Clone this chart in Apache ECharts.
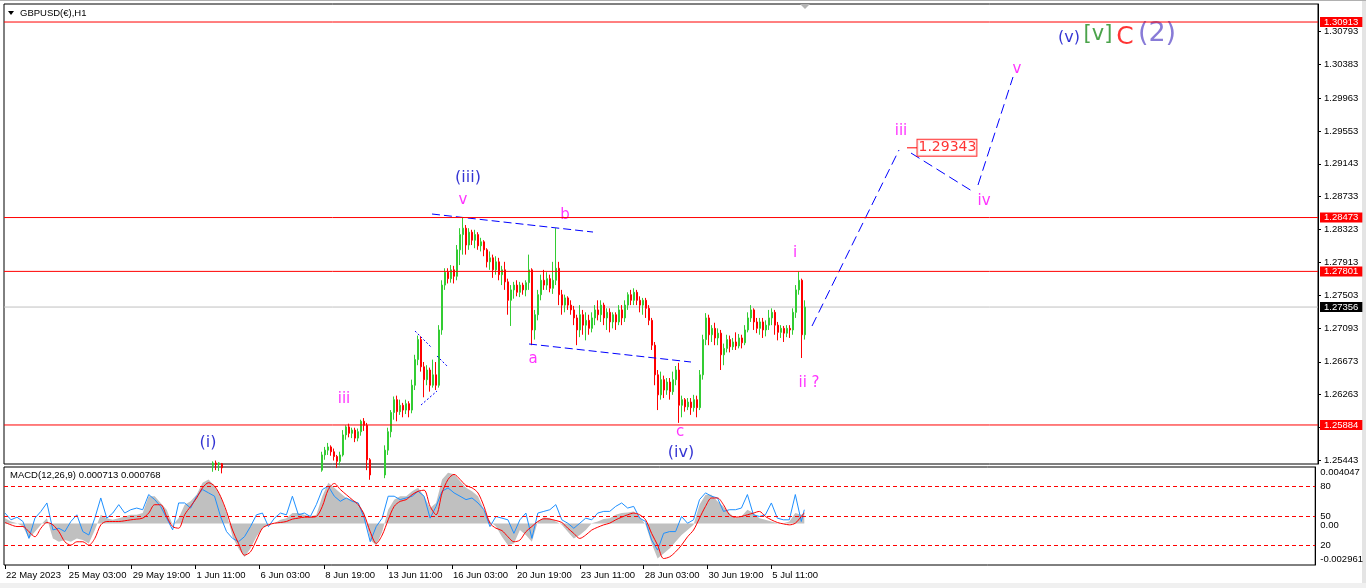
<!DOCTYPE html>
<html lang="en">
<head>
<meta charset="UTF-8">
<title>GBPUSD(€),H1</title>
<script src="https://cdn.jsdelivr.net/npm/echarts@6.0.0/dist/echarts.min.js"></script>
<style>
  html, body { margin: 0; padding: 0; background: #fff; }
  #main { width: 1366px; height: 588px; }
</style>
</head>
<body>
<div id="main"></div>
<script>
// hourly bar index (0 = first bar on screen), prices, 3-hour candles
// [bar, open, close, low, high]
var candles = [
  [208,1.2538,1.2541,1.2530,1.2543],[211,1.2541,1.2539,1.2532,1.2544],[214,1.2539,1.2541,1.2531,1.2542],[217,1.2540,1.2535,1.2528,1.2541],
  [317,1.2532,1.2551,1.2530,1.2555],[320,1.2551,1.2557,1.2545,1.2561],[323,1.2557,1.2561,1.2551,1.2566],[326,1.2561,1.2555,1.2550,1.2563],
  [329,1.2555,1.2549,1.2544,1.2559],[332,1.2549,1.2543,1.2535,1.2551],[335,1.2543,1.2551,1.2538,1.2555],[338,1.2551,1.2576,1.2549,1.2582],
  [341,1.2576,1.2586,1.2570,1.2588],[344,1.2586,1.2578,1.2573,1.2590],[347,1.2578,1.2582,1.2572,1.2585],[350,1.2582,1.2572,1.2567,1.2585],
  [353,1.2572,1.2580,1.2568,1.2584],[356,1.2580,1.2593,1.2575,1.2595],[359,1.2593,1.2588,1.2581,1.2597],[362,1.2588,1.2545,1.2532,1.2591],
  [365,1.2545,1.2526,1.2520,1.2547],
  [380,1.2526,1.2557,1.2522,1.2563],[383,1.2557,1.2580,1.2551,1.2585],[386,1.2580,1.2604,1.2573,1.2607],[389,1.2604,1.2620,1.2595,1.2624],
  [392,1.2620,1.2605,1.2593,1.2625],[395,1.2605,1.2613,1.2601,1.2620],[398,1.2613,1.2607,1.2598,1.2616],[401,1.2607,1.2615,1.2602,1.2620],
  [404,1.2615,1.2607,1.2598,1.2618],[407,1.2607,1.2638,1.2603,1.2645],[410,1.2638,1.2670,1.2632,1.2676],[413,1.2670,1.2695,1.2663,1.2700],
  [416,1.2695,1.2661,1.2655,1.2699],[419,1.2661,1.2645,1.2623,1.2667],[422,1.2645,1.2657,1.2638,1.2663],[425,1.2657,1.2638,1.2630,1.2660],
  [428,1.2638,1.2651,1.2635,1.2670],[431,1.2651,1.2638,1.2632,1.2667],[434,1.2638,1.2707,1.2635,1.2713],[437,1.2707,1.2763,1.2701,1.2769],
  [440,1.2763,1.2779,1.2757,1.2784],[443,1.2779,1.2771,1.2765,1.2784],[446,1.2771,1.2782,1.2766,1.2788],[449,1.2782,1.2774,1.2765,1.2787],
  [452,1.2774,1.2807,1.2769,1.2813],[455,1.2807,1.2826,1.2788,1.2834],[458,1.2826,1.2834,1.2801,1.2847],[461,1.2834,1.2813,1.2801,1.2838],
  [464,1.2813,1.2829,1.2807,1.2834],[467,1.2829,1.2819,1.2813,1.2832],[470,1.2819,1.2826,1.2809,1.2832],[473,1.2826,1.2812,1.2807,1.2829],
  [476,1.2812,1.2817,1.2805,1.2822],[479,1.2817,1.2807,1.2799,1.2819],[482,1.2807,1.2792,1.2785,1.2809],[485,1.2792,1.2797,1.2782,1.2805],
  [488,1.2797,1.2782,1.2772,1.2801],[491,1.2782,1.2792,1.2776,1.2799],[494,1.2792,1.2776,1.2769,1.2797],[497,1.2776,1.2782,1.2763,1.2787],
  [500,1.2782,1.2767,1.2757,1.2792],[503,1.2767,1.2744,1.2726,1.2771],[506,1.2744,1.2757,1.2712,1.2763],[509,1.2757,1.2763,1.2746,1.2767],
  [512,1.2763,1.2754,1.2749,1.2769],[515,1.2754,1.2763,1.2748,1.2767],[518,1.2763,1.2757,1.2751,1.2766],[521,1.2757,1.2766,1.2749,1.2769],
  [524,1.2766,1.2782,1.2757,1.2801],[527,1.2782,1.2707,1.2688,1.2784],[530,1.2707,1.2726,1.2695,1.2732],[533,1.2726,1.2751,1.2719,1.2757],
  [536,1.2751,1.2769,1.2744,1.2776],[539,1.2769,1.2763,1.2757,1.2782],[542,1.2763,1.2771,1.2757,1.2779],[545,1.2771,1.2759,1.2754,1.2776],
  [548,1.2759,1.2769,1.2752,1.2792],[551,1.2769,1.2784,1.2763,1.2834],[554,1.2784,1.2751,1.2738,1.2792],[557,1.2751,1.2738,1.2726,1.2757],
  [560,1.2738,1.2747,1.2729,1.2751],[563,1.2747,1.2738,1.2732,1.2749],[566,1.2738,1.2732,1.2726,1.2744],[569,1.2732,1.2722,1.2713,1.2737],
  [572,1.2722,1.2707,1.2688,1.2726],[575,1.2707,1.2726,1.2698,1.2738],[578,1.2726,1.2713,1.2701,1.2732],[581,1.2713,1.2719,1.2694,1.2729],
  [584,1.2719,1.2709,1.2701,1.2726],[587,1.2709,1.2722,1.2704,1.2729],[590,1.2722,1.2732,1.2713,1.2738],[593,1.2732,1.2726,1.2719,1.2744],
  [596,1.2726,1.2738,1.2717,1.2744],[599,1.2738,1.2722,1.2713,1.2741],[602,1.2722,1.2729,1.2707,1.2734],[605,1.2729,1.2717,1.2704,1.2734],
  [608,1.2717,1.2726,1.2709,1.2729],[611,1.2726,1.2717,1.2707,1.2729],[614,1.2717,1.2732,1.2713,1.2738],[617,1.2732,1.2722,1.2713,1.2738],
  [620,1.2722,1.2738,1.2717,1.2744],[623,1.2738,1.2751,1.2732,1.2754],[626,1.2751,1.2744,1.2738,1.2757],[629,1.2744,1.2754,1.2738,1.2759],
  [632,1.2754,1.2744,1.2738,1.2757],[635,1.2744,1.2738,1.2729,1.2749],[638,1.2738,1.2744,1.2726,1.2747],[641,1.2744,1.2734,1.2722,1.2747],
  [644,1.2734,1.2719,1.2713,1.2738],[647,1.2719,1.2688,1.2682,1.2722],[650,1.2688,1.2651,1.2638,1.2692],[653,1.2651,1.2626,1.2607,1.2657],
  [656,1.2626,1.2645,1.2620,1.2655],[659,1.2645,1.2632,1.2622,1.2650],[662,1.2632,1.2642,1.2626,1.2647],[665,1.2642,1.2630,1.2620,1.2647],
  [668,1.2630,1.2645,1.2626,1.2655],[671,1.2645,1.2657,1.2638,1.2662],[674,1.2657,1.2613,1.2591,1.2666],[677,1.2613,1.2620,1.2598,1.2625],
  [680,1.2620,1.2611,1.2605,1.2622],[683,1.2611,1.2617,1.2607,1.2622],[686,1.2617,1.2610,1.2601,1.2622],[689,1.2610,1.2620,1.2605,1.2626],
  [692,1.2620,1.2610,1.2598,1.2625],[695,1.2610,1.2651,1.2607,1.2657],[698,1.2651,1.2695,1.2645,1.2701],[701,1.2695,1.2722,1.2688,1.2728],
  [704,1.2722,1.2701,1.2688,1.2726],[707,1.2701,1.2709,1.2692,1.2713],[710,1.2709,1.2697,1.2688,1.2716],[713,1.2697,1.2703,1.2688,1.2709],
  [716,1.2703,1.2676,1.2657,1.2707],[719,1.2676,1.2684,1.2663,1.2690],[722,1.2684,1.2695,1.2679,1.2701],[725,1.2695,1.2686,1.2679,1.2700],
  [728,1.2686,1.2692,1.2682,1.2697],[731,1.2692,1.2687,1.2682,1.2704],[734,1.2687,1.2697,1.2684,1.2702],[737,1.2697,1.2691,1.2684,1.2701],
  [740,1.2691,1.2707,1.2688,1.2713],[743,1.2707,1.2722,1.2704,1.2729],[746,1.2722,1.2732,1.2717,1.2738],[749,1.2732,1.2717,1.2707,1.2734],
  [752,1.2717,1.2709,1.2703,1.2722],[755,1.2709,1.2717,1.2701,1.2722],[758,1.2717,1.2707,1.2697,1.2722],[761,1.2707,1.2713,1.2699,1.2719],
  [764,1.2713,1.2722,1.2707,1.2732],[767,1.2722,1.2729,1.2713,1.2734],[770,1.2729,1.2713,1.2701,1.2732],[773,1.2713,1.2704,1.2694,1.2717],
  [776,1.2704,1.2709,1.2697,1.2713],[779,1.2709,1.2703,1.2692,1.2712],[782,1.2703,1.2709,1.2698,1.2713],[785,1.2709,1.2707,1.2697,1.2713],
  [788,1.2707,1.2729,1.2701,1.2734],[791,1.2729,1.2757,1.2722,1.2763],[794,1.2757,1.2769,1.2751,1.2780],[797,1.2769,1.2701,1.2672,1.2771],
  [800,1.2701,1.27356,1.2695,1.2744]
];

var priceTicks = [1.30793,1.30383,1.29963,1.29553,1.29143,1.28733,1.28323,1.27913,1.27503,1.27093,1.26673,1.26263,1.25853,1.25443];
var levels = [1.30913, 1.28473, 1.27801, 1.25884];
var currentPrice = 1.27356;
var targetPrice = 1.29343;

var tickBars = [0,63,127,191,255,320,383,448,512,576,640,704,768];
var dateLabels = ['22 May 2023','25 May 03:00','29 May 19:00','1 Jun 11:00','6 Jun 03:00','8 Jun 19:00',
  '13 Jun 11:00','16 Jun 03:00','20 Jun 19:00','23 Jun 11:00','28 Jun 03:00','30 Jun 19:00','5 Jul 11:00'];

// indicator pane, sampled every 6 bars
var macdBars = [0,6,12,18,24,30,36,42,48,54,60,66,72,78,84,90,96,102,108,114,120,126,132,138,144,150,156,162,168,174,
  180,186,192,198,204,210,216,222,228,234,240,246,252,258,264,270,276,282,288,294,300,306,312,318,324,330,336,342,348,354,
  360,366,372,378,384,390,396,402,408,414,420,426,432,438,444,450,456,462,468,474,480,486,492,498,504,510,516,522,528,534,
  540,546,552,558,564,570,576,582,588,594,600,606,612,618,624,630,636,642,648,654,660,666,672,678,684,690,696,702,708,714,
  720,726,732,738,744,750,756,762,768,774,780,786,792,798,801];
var macdMain = [0.00039,0.00015,0.00003,-0.00021,-0.00106,-0.00058,-0.00009,0.00039,-0.00106,-0.00130,
  -0.00118,-0.00130,-0.00106,-0.00118,-0.00142,-0.00046,0.00063,0.00039,0.00027,0.00039,
  0.00051,0.00063,0.00063,0.00075,0.00195,0.00195,0.00147,0.00099,-0.00009,0.00039,
  0.00135,0.00159,0.00207,0.00292,0.00316,0.00268,0.00195,0.00075,-0.00094,-0.00178,
  -0.00238,-0.00178,-0.00094,-0.00033,-0.00009,0.00003,0.00027,0.00039,0.00075,0.00075,
  0.00063,0.00051,0.00063,0.00195,0.00292,0.00256,0.00219,0.00183,0.00171,0.00147,
  0.00075,-0.00118,-0.00154,-0.00058,0.00099,0.00171,0.00195,0.00195,0.00231,0.00256,
  0.00195,0.00111,0.00147,0.00316,0.00364,0.00352,0.00304,0.00256,0.00231,0.00195,
  0.00099,0.00015,-0.00021,-0.00094,-0.00154,-0.00142,-0.00046,-0.00082,-0.00130,0.00015,
  0.00046,0.00039,0.00015,-0.00009,-0.00058,-0.00106,-0.00082,-0.00046,0.00003,0.00015,
  0.00032,0.00039,0.00063,0.00075,0.00080,0.00087,0.00051,-0.00009,-0.00142,-0.00250,
  -0.00214,-0.00178,-0.00130,-0.00082,-0.00046,-0.00009,0.00135,0.00207,0.00207,0.00159,
  0.00123,0.00075,0.00039,0.00051,0.00099,0.00075,0.00039,0.00027,0.00015,0.00003,
  0.00003,0.00015,0.00075,0.00063,0.000713];
var macdSignal = [0.00008,-0.00009,-0.00021,-0.00021,-0.00058,-0.00094,-0.00033,0.00008,-0.00009,-0.00058,
  -0.00130,-0.00154,-0.00130,-0.00130,-0.00154,-0.00106,-0.00009,0.00015,0.00015,0.00015,
  0.00020,0.00027,0.00032,0.00039,0.00075,0.00135,0.00135,0.00051,-0.00021,-0.00033,
  0.00063,0.00123,0.00183,0.00256,0.00292,0.00268,0.00195,0.00087,-0.00046,-0.00142,
  -0.00226,-0.00202,-0.00118,-0.00033,-0.00009,0.00003,0.00008,0.00015,0.00032,0.00039,
  0.00046,0.00046,0.00051,0.00123,0.00244,0.00287,0.00244,0.00207,0.00171,0.00135,
  0.00063,-0.00058,-0.00142,-0.00082,0.00027,0.00123,0.00159,0.00171,0.00207,0.00231,
  0.00239,0.00123,0.00063,0.00219,0.00316,0.00352,0.00316,0.00272,0.00256,0.00219,
  0.00123,0.00003,-0.00033,-0.00050,-0.00094,-0.00130,-0.00118,-0.00058,-0.00021,0.00015,
  0.00034,0.00032,0.00022,0.00008,-0.00033,-0.00070,-0.00106,-0.00082,-0.00046,-0.00026,
  -0.00009,0.00003,0.00027,0.00046,0.00063,0.00075,0.00063,0.00027,-0.00070,-0.00154,
  -0.00250,-0.00238,-0.00202,-0.00154,-0.00094,-0.00046,0.00039,0.00123,0.00183,0.00183,
  0.00135,0.00063,0.00046,0.00051,0.00063,0.00075,0.00087,0.00051,0.00027,0.00008,
  -0.00002,-0.00009,0.00003,0.00051,0.000768];
var oscillator = [53.0,46.1,48.8,44.4,27.2,47.8,54.7,63.3,35.8,37.5,
  34.1,44.4,51.2,34.1,30.6,47.8,68.4,47.8,53.0,61.6,
  53.0,56.4,58.1,56.4,71.9,66.7,59.8,47.8,35.8,63.3,
  63.3,58.1,70.2,77.0,73.6,70.2,49.5,34.1,27.2,23.8,
  28.9,39.2,51.2,53.0,39.2,47.8,53.0,51.2,70.2,51.2,
  53.0,49.5,61.6,77.0,80.4,70.2,65.0,68.4,65.0,63.3,
  47.8,23.8,39.2,47.8,70.2,70.2,66.7,68.4,70.2,75.3,
  70.2,47.8,59.8,75.3,78.7,73.6,70.2,66.7,68.4,63.3,
  56.4,39.2,49.5,47.8,46.1,32.3,46.1,53.0,27.2,53.0,
  54.7,56.4,61.6,46.1,42.6,37.5,42.6,47.8,46.1,53.0,
  54.7,54.7,59.8,63.3,58.1,59.8,47.8,44.4,25.5,15.2,
  32.3,34.1,34.1,49.5,42.6,46.1,66.7,73.6,70.2,68.4,
  54.7,56.4,56.4,58.1,71.9,51.2,49.5,51.2,63.3,47.8,
  46.1,46.1,71.9,44.4,56.4];
var oscLevels = [80, 50, 20];
var macdMax = 0.004047, macdMin = -0.002961;

// drawn objects: [bar, price] pairs
var channelTop = [[427,1.28517],[588,1.28292]];
var channelBottom = [[524,1.26895],[686,1.26670]];
var wedgeA = [[410,1.27057],[427,1.26845]];
var wedgeB = [[432,1.26745],[443,1.26608]];
var wedgeC = [[416,1.26133],[432,1.26308]];
var projUp = [[807,1.27119],[894,1.29316]];
var projDown = [[906,1.29278],[967,1.28804]];
var projLast = [[973,1.28879],[1008,1.30227]];

// wave labels: [text, bar, price, degree]
var waveLabels = [
  ['(i)',203,1.25659,'minute'],
  ['iii',339,1.26208,'minuette'],
  ['(iii)',463,1.28973,'minute'],
  ['v',458,1.28692,'minuette'],
  ['b',560,1.28505,'minuette'],
  ['a',528,1.26708,'minuette'],
  ['c',675,1.25797,'minuette'],
  ['(iv)',676,1.25535,'minute'],
  ['i',790,1.28030,'minuette'],
  ['ii ?',804,1.26408,'minuette'],
  ['iii',896,1.29555,'minuette'],
  ['iv',979,1.28679,'minuette'],
  ['v',1012,1.30327,'minuette'],
  ['(v)',1064,1.30713,'minuteTop'],
  ['[v]',1093,1.30751,'minor'],
  ['C',1120,1.30726,'intermediate'],
  ['(2)',1152,1.30763,'primary']
];

var degreeStyle = {
  minuette: { color: '#ff00ff', fontSize: 15 },
  minute: { color: '#0000c8', fontSize: 16 },
  minuteTop: { color: '#0000c8', fontSize: 16 },
  minor: { color: '#1e8c1e', fontSize: 21 },
  intermediate: { color: '#ff0000', fontSize: 25 },
  primary: { color: '#6a5acd', fontSize: 27 }
};

var xMin = -1, xMax = 1313;
var yMin = 1.25397, yMax = 1.31138;
var font = 'Liberation Sans';
var clear = 'rgba(0,0,0,0)';

function pairs(xs, ys) {
  return xs.map(function (x, i) { return [x, ys[i]]; });
}

function drawn(data, dash) {
  return {
    type: 'line', xAxisIndex: 0, yAxisIndex: 0, data: data,
    symbol: 'none', silent: true, z: 5,
    lineStyle: { color: '#0000ff', width: 1, type: dash }
  };
}

// full-width horizontal price line
function hline(price, color, z) {
  return {
    type: 'line', xAxisIndex: 0, yAxisIndex: 0, data: [[xMin, price], [xMax, price]],
    symbol: 'none', silent: true, z: z,
    lineStyle: { color: color, width: 1, type: 'solid' }
  };
}

var chart = echarts.init(document.getElementById('main'));

var series = [
  hline(currentPrice, '#c0c0c0', 1),
  {
    type: 'candlestick', xAxisIndex: 0, yAxisIndex: 0,
    data: candles, encode: { x: 0, y: [1, 2, 3, 4] },
    barWidth: 2.4, clip: true, silent: true, z: 3,
    itemStyle: { color: '#33cc33', color0: '#ff0000', borderColor: '#33cc33', borderColor0: '#ff0000', borderWidth: 1 }
  }
].concat(levels.map(function (v) { return hline(v, '#ff0000', 9); })).concat([
  drawn(channelTop, [8, 4]),
  drawn(channelBottom, [8, 4]),
  drawn(wedgeA, [2, 2]),
  drawn(wedgeB, [2, 2]),
  drawn(wedgeC, [2, 2]),
  drawn(projUp, [10, 5]),
  drawn(projDown, [10, 5]),
  drawn(projLast, [10, 5]),
  {
    type: 'line', xAxisIndex: 0, yAxisIndex: 0, symbol: 'none', silent: true, z: 6,
    data: [[902, targetPrice], [912, targetPrice]],
    lineStyle: { color: '#ff0000', width: 1 }
  },
  {
    type: 'scatter', xAxisIndex: 0, yAxisIndex: 0, silent: true, z: 7,
    symbolSize: 1, itemStyle: { color: clear },
    data: [[912, targetPrice]],
    label: {
      show: true, position: 'right', distance: 0,
      formatter: function () { return targetPrice.toFixed(5); },
      fontFamily: 'DejaVu Sans', fontSize: 14, lineHeight: 14, color: '#ff0000',
      backgroundColor: '#fff', borderColor: '#ff0000', borderWidth: 1, padding: [1, 0, 1, 1]
    }
  },
  {
    type: 'scatter', xAxisIndex: 0, yAxisIndex: 0, silent: true, z: 8,
    symbolSize: 1, itemStyle: { color: clear },
    data: waveLabels.map(function (w) {
      var st = degreeStyle[w[3]];
      return {
        name: w[0], value: [w[1], w[2]],
        label: { show: true, position: 'inside', formatter: w[0], fontFamily: 'DejaVu Sans',
          color: st.color, fontSize: st.fontSize }
      };
    })
  },
  {
    type: 'line', xAxisIndex: 1, yAxisIndex: 2, data: pairs(macdBars, macdMain),
    symbol: 'none', silent: true, z: 2,
    lineStyle: { width: 0 }, areaStyle: { color: '#c0c0c0', opacity: 1 }
  },
  {
    type: 'line', xAxisIndex: 1, yAxisIndex: 3, data: pairs(macdBars, oscillator),
    symbol: 'none', silent: true, z: 3,
    lineStyle: { color: '#1e90ff', width: 1 },
    markLine: {
      silent: true, symbol: 'none', label: { show: false },
      lineStyle: { color: '#ff0000', width: 1, type: [4, 3] },
      data: oscLevels.map(function (v) { return { yAxis: v }; })
    }
  },
  {
    type: 'line', xAxisIndex: 1, yAxisIndex: 2, data: pairs(macdBars, macdSignal),
    symbol: 'none', silent: true, z: 4, smooth: 0.3,
    lineStyle: { color: '#ff0000', width: 1 }
  }
]);

var option = {
  animation: false,
  backgroundColor: '#fff',
  title: [
    { text: 'GBPUSD(€),H1', left: 20, top: 8, padding: 0,
      textStyle: { fontFamily: font, fontSize: 9.5, fontWeight: 'normal', color: '#000' } },
    { text: 'MACD(12,26,9) 0.000713 0.000768', left: 10, top: 470, padding: 0,
      textStyle: { fontFamily: font, fontSize: 9.5, fontWeight: 'normal', color: '#000' } }
  ],
  graphic: [
    { type: 'rect', shape: { x: 1362, y: 0, width: 4, height: 588 }, style: { fill: '#e4e4e4' }, silent: true },
    { type: 'rect', shape: { x: 0, y: 583, width: 1366, height: 5 }, style: { fill: '#f0f0f0' }, silent: true },
    { type: 'rect', shape: { x: 0, y: 0, width: 1366, height: 1 }, style: { fill: '#b0b0b0' }, silent: true },
    { type: 'polygon', shape: { points: [[8, 11], [14, 11], [11, 15]] }, style: { fill: '#000' }, silent: true },
    { type: 'polygon', shape: { points: [[800, 4], [810, 4], [805, 9]] }, style: { fill: '#b4b4b4' }, silent: true }
  ],
  grid: [
    { left: 4, top: 4, width: 1314, height: 460, show: true, backgroundColor: '#fff', borderColor: '#000', borderWidth: 1 },
    { left: 4, top: 467, width: 1314, height: 98, show: true, backgroundColor: '#fff', borderColor: '#000', borderWidth: 1 }
  ],
  xAxis: [
    { type: 'value', gridIndex: 0, min: xMin, max: xMax, show: false },
    { type: 'value', gridIndex: 1, min: xMin, max: xMax,
      axisLine: { show: false, onZero: false },
      splitLine: { show: false },
      axisTick: { show: true, length: 4, customValues: tickBars, lineStyle: { color: '#000' } },
      axisLabel: {
        customValues: tickBars, align: 'left', margin: 5, padding: [0, 0, 0, 1],
        fontFamily: font, fontSize: 9.5, color: '#000',
        formatter: function (v) { return dateLabels[tickBars.indexOf(v)] || ''; }
      } }
  ],
  yAxis: [
    { type: 'value', gridIndex: 0, position: 'right', min: yMin, max: yMax, scale: true,
      splitLine: { show: false },
      axisLine: { show: true, onZero: false, lineStyle: { color: '#000' } },
      axisTick: { show: true, length: 3, customValues: priceTicks, lineStyle: { color: '#000' } },
      axisLabel: { customValues: priceTicks, margin: 6, fontFamily: font, fontSize: 9.5, color: '#000',
        formatter: function (v) { return v.toFixed(5); } } },
    { type: 'value', gridIndex: 0, position: 'right', min: yMin, max: yMax, scale: true,
      splitLine: { show: false }, axisLine: { show: false, onZero: false },
      axisTick: { show: false, customValues: levels.concat([currentPrice]) },
      axisLabel: {
        customValues: levels.concat([currentPrice]), margin: 2,
        formatter: function (v) {
          var s = v.toFixed(5);
          return Math.abs(v - currentPrice) < 1e-7 ? '{k|' + s + '}' : '{r|' + s + '}';
        },
        rich: {
          r: { backgroundColor: '#ff0000', color: '#fff', fontFamily: font, fontSize: 9.5, lineHeight: 10, padding: [0, 4, 0, 4] },
          k: { backgroundColor: '#000', color: '#fff', fontFamily: font, fontSize: 9.5, lineHeight: 10, padding: [0, 4, 0, 4] }
        }
      } },
    { type: 'value', gridIndex: 1, position: 'right', min: macdMin, max: macdMax,
      splitLine: { show: false },
      axisLine: { show: true, onZero: false, lineStyle: { color: '#000' } },
      axisTick: { show: false },
      axisLabel: {
        customValues: [macdMax, 0, macdMin], margin: 5,
        formatter: function (v) {
          if (v === 0) return '{m|0.00}';
          return v > 0 ? '{t|' + v + '}' : '{b|' + v + '}';
        },
        rich: {
          t: { fontFamily: font, fontSize: 9.5, color: '#000', padding: [11, 0, 0, 0] },
          m: { fontFamily: font, fontSize: 9.5, color: '#000', padding: [3, 0, 0, 0] },
          b: { fontFamily: font, fontSize: 9.5, color: '#000', padding: [0, 0, 12, 0] }
        }
      } },
    { type: 'value', gridIndex: 1, position: 'right', min: 0, max: 100,
      splitLine: { show: false }, axisLine: { show: false, onZero: false }, axisTick: { show: false },
      axisLabel: { customValues: oscLevels, margin: 5, fontFamily: font, fontSize: 9.5, color: '#000' } }
  ],
  series: series
};

chart.setOption(option);
</script>
</body>
</html>
